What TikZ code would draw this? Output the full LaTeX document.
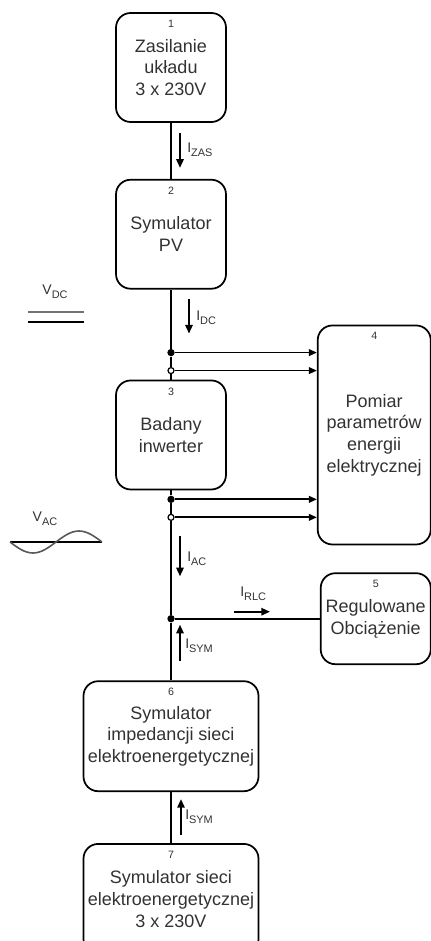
\documentclass[tikz,border=0pt]{standalone}
\usepackage{fontspec}
\setmainfont{Liberation Sans}
\usepackage{xcolor}
\usepackage{tikz}
\usetikzlibrary{arrows.meta,positioning,calc}
\definecolor{txtgray}{RGB}{50,50,50}
\newcommand{\lbl}[2]{#1\raisebox{-3pt}{\fontsize{8.2}{8.2}\selectfont #2}}

\begin{document}
\begin{tikzpicture}[x=0.75pt,y=-0.75pt,
    s/.style={rectangle,draw,line width=1.3pt,rounded corners=11pt,align=center,
      text=txtgray,font=\fontsize{13.5}{16.3}\selectfont,
      minimum width=82.5pt,minimum height=81.75pt},
    nr/.style={label={[anchor=north,yshift=-2.5pt,text=txtgray,
      font=\fontsize{8}{8}\selectfont]north:#1}},
    w/.style={line width=1.5pt},
    a/.style={-{Triangle[length=6pt,width=5pt]},line width=1.3pt},
    cur/.style={-{Triangle[length=6.5pt,width=5.5pt]},line width=1.4pt},
    lab/.style={anchor=west,text=txtgray,font=\fontsize{10.5}{10.5}\selectfont,inner sep=0pt},
    jdot/.style={circle,fill,inner sep=0pt,minimum size=5.5pt},
    jring/.style={circle,draw,fill=white,line width=0.9pt,inner sep=0pt,minimum size=4.5pt}]
    \useasboundingbox (0,0) rectangle (430,941);
    % blocks
    \node[s,nr=1] (b1) at (171,67.5) {Zasilanie\\układu\\3 x 230V};
    \node[s,nr=2,below=42pt of b1] (b2) {Symulator\\PV};
    \node[s,nr=3,below=67.5pt of b2] (b3) {Badany\\inwerter};
    \node[s,nr=4,right=67.5pt of b3,minimum width=84.75pt,minimum height=164.25pt] (b4)
      {Pomiar\\parametrów\\energii\\elektrycznej};
    \node[s,nr=5,below left=20.25pt and 0pt of b4.south east,minimum height=68.25pt] (b5)
      {Regulowane\\Obciążenie};
    \node[s,nr=6,below=142.5pt of b3,minimum width=131.25pt,minimum height=82.5pt] (b6)
      {Symulator\\impedancji sieci\\elektroenergetycznej};
    \node[s,nr=7,below=38.25pt of b6,minimum width=131.25pt,minimum height=82.5pt] (b7)
      {Symulator sieci\\elektroenergetycznej\\3 x 230V};
    % junctions
    \node[jdot] (d1) at ($(b3.north)+(0,-27)$) {};
    \node[jring] (d2) at ($(b3.north)+(0,-9)$) {};
    \node[jdot] (d3) at ($(b3.south)+(0,9)$) {};
    \node[jring] (d4) at ($(b3.south)+(0,27)$) {};
    \node[jdot] (d5) at (b3.south |- b5.west) {};
    % wires
    \draw[w] (b1) -- (b2);
    \draw[w] (b2) -- (d1) -- (d2) -- (b3);
    \draw[w] (b3) -- (d3) -- (d4) -- (d5) -- (b6);
    \draw[w] (b6) -- (b7);
    \draw[w] (d5) -- (b5);
    \foreach \d in {d1,d2,d3,d4} \draw[a] (\d) -- (\d -| b4.west);
    % currents
    \coordinate (zas1) at ($(b1.south)+(9,10)$);  \coordinate (zas2) at ($(b1.south)+(9,45)$);
    \coordinate (dc1) at ($(b2.south)+(18,9)$);   \coordinate (dc2) at ($(b2.south)+(18,44)$);
    \coordinate (ac1) at ($(b3.south)+(9,46)$);   \coordinate (ac2) at ($(b3.south)+(9,86)$);
    \coordinate (rlc1) at ($(d5)+(63,-7)$);       \coordinate (rlc2) at ($(d5)+(99,-7)$);
    \coordinate (sym1) at ($(d5)+(9,42)$);        \coordinate (sym2) at ($(d5)+(9,6)$);
    \coordinate (sym3) at ($(b6.south)+(10,43)$); \coordinate (sym4) at ($(b6.south)+(10,7)$);
    \draw[cur] (zas1) -- (zas2);
    \draw[cur] (dc1) -- (dc2);
    \draw[cur] (ac1) -- (ac2);
    \draw[cur] (rlc1) -- (rlc2);
    \draw[cur] (sym1) -- (sym2);
    \draw[cur] (sym3) -- (sym4);
    \node[lab] (lzas) at ($(b1.south)+(16,27)$) {\lbl{I}{ZAS}};
    \node[lab] (ldc) at ($(b2.south)+(25,28)$) {\lbl{I}{DC}};
    \node[lab] (lac) at ($(b3.south)+(16,68)$) {\lbl{I}{AC}};
    \node[lab] (lrlc) at ($(d5)+(69,-25)$) {\lbl{I}{RLC}};
    \node[lab] (lsym) at ($(d5)+(14,27)$) {\lbl{I}{SYM}};
    \node[lab] (lsym2) at ($(b6.south)+(14,25)$) {\lbl{I}{SYM}};
    % voltage symbols
    \node[lab,anchor=center] (vdc) at (55,292) {\lbl{V}{DC}};
    \draw[line width=1.5pt,black!55] (28,312) -- (84,312);
    \draw[line width=1.5pt] (28,322) -- (84,322);
    \node[lab,anchor=center] (vac) at (45,519) {\lbl{V}{AC}};
    \draw[line width=1.5pt] (10,542) -- (102,542);
    \draw[line width=1.2pt,black!65] (10,542) sin (33,553) cos (56,542) sin (79,531) cos (102,542);
  \end{tikzpicture}
\end{document}
